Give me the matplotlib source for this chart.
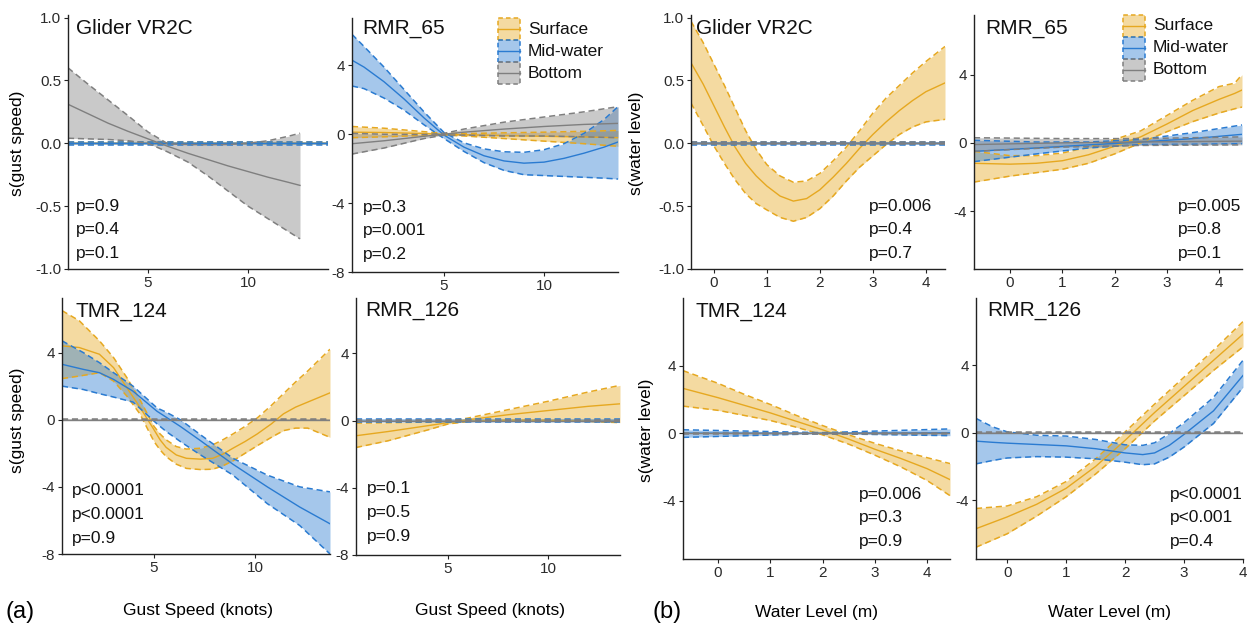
import matplotlib
matplotlib.use("Agg")
import matplotlib.pyplot as plt
from matplotlib.patches import Rectangle
from matplotlib.lines import Line2D
from matplotlib.colors import to_rgba

plt.rcParams['font.family'] = ['Liberation Sans', 'DejaVu Sans']

W, H = 1257, 627

# ---------------- DATA ----------------
series_names = ["Surface", "Mid-water", "Bottom"]

# (a) Gust speed --- Glider VR2C
g1_surf_x = [1, 14]
g1_surf_fit = [0.003, 0.003]
g1_surf_lo = [-0.008, -0.008]
g1_surf_hi = [0.012, 0.012]
g1_mid_x = [1, 14]
g1_mid_fit = [0.0, 0.0]
g1_mid_lo = [-0.012, -0.012]
g1_mid_hi = [0.012, 0.012]
g1_bot_x = [1, 2, 3, 4, 5, 6, 7, 8, 9, 10, 11, 12, 12.6]
g1_bot_fit = [0.31, 0.235, 0.16, 0.095, 0.035, -0.025, -0.08, -0.13, -0.18, -0.225, -0.27, -0.31, -0.335]
g1_bot_hi = [0.60, 0.47, 0.345, 0.22, 0.09, -0.005, -0.01, -0.012, -0.01, 0.0, 0.02, 0.055, 0.08]
g1_bot_lo = [0.04, 0.035, 0.03, 0.02, 0.0, -0.07, -0.15, -0.26, -0.38, -0.5, -0.6, -0.7, -0.76]

# (a) Gust speed --- RMR_65
g2_surf_x = [0.4, 2, 4, 5, 6, 8, 10, 12, 13.7]
g2_surf_fit = [0.12, 0.1, 0.04, 0.0, -0.03, -0.08, -0.12, -0.16, -0.2]
g2_surf_hi = [0.45, 0.35, 0.15, 0.05, 0.04, 0.08, 0.12, 0.17, 0.22]
g2_surf_lo = [-0.2, -0.15, -0.07, -0.05, -0.1, -0.25, -0.4, -0.55, -0.7]
g2_mid_x = [0.4, 1, 2, 3, 4, 5, 6, 7, 8, 9, 10, 11, 12, 13, 13.7]
g2_mid_fit = [4.3, 3.9, 3.05, 2.05, 0.95, -0.05, -0.75, -1.25, -1.55, -1.68, -1.62, -1.4, -1.1, -0.75, -0.45]
g2_mid_hi = [5.8, 5.1, 3.9, 2.6, 1.3, 0.1, -0.5, -0.85, -1.02, -1.05, -0.9, -0.55, 0.05, 0.85, 1.6]
g2_mid_lo = [2.8, 2.65, 2.1, 1.4, 0.55, -0.25, -1.0, -1.65, -2.1, -2.35, -2.4, -2.45, -2.5, -2.55, -2.6]
g2_bot_x = [0.4, 2, 4, 5, 6, 8, 10, 12, 13.7]
g2_bot_fit = [-0.55, -0.38, -0.12, 0.0, 0.12, 0.3, 0.45, 0.57, 0.63]
g2_bot_hi = [0.05, 0.0, -0.02, 0.05, 0.3, 0.7, 1.0, 1.3, 1.6]
g2_bot_lo = [-1.15, -0.8, -0.25, -0.05, -0.05, -0.1, -0.1, -0.15, -0.2]

# (a) Gust speed --- TMR_124
g3_surf_x = [0.45, 1.3, 2.3, 3.0, 3.66, 4.3, 5.0, 5.3, 5.6, 6.1, 6.6, 7.3, 7.9, 8.4, 8.9, 9.5, 10.1, 10.8, 11.4, 12.0, 12.6, 13.7]
g3_surf_fit = [4.4, 4.3, 3.9, 3.1, 1.9, 0.75, -0.6, -1.2, -1.65, -2.1, -2.3, -2.35, -2.3, -2.05, -1.7, -1.3, -0.85, -0.25, 0.35, 0.75, 1.05, 1.6]
g3_surf_hi = [6.5, 5.9, 4.7, 3.7, 2.5, 1.2, -0.4, -0.85, -1.2, -1.6, -1.75, -1.7, -1.5, -1.2, -0.85, -0.4, 0.1, 0.85, 1.55, 2.25, 2.9, 4.2]
g3_surf_lo = [2.45, 2.6, 2.8, 2.3, 1.4, 0.35, -1.3, -1.8, -2.2, -2.65, -2.9, -2.97, -2.95, -2.75, -2.45, -2.0, -1.55, -1.05, -0.65, -0.5, -0.5, -1.05]
g3_mid_x = [0.45, 1.5, 2.3, 3.0, 3.96, 5.15, 5.6, 6.3, 7.3, 8.9, 10.6, 12.2, 13.7]
g3_mid_fit = [3.3, 3.0, 2.8, 2.4, 1.7, 0.5, 0.15, -0.4, -1.25, -2.65, -4.0, -5.2, -6.2]
g3_mid_hi = [4.7, 4.0, 3.4, 2.8, 2.0, 0.7, 0.45, 0.0, -0.9, -2.3, -3.3, -4.0, -4.3]
g3_mid_lo = [2.0, 1.8, 1.55, 1.35, 1.05, -0.25, -0.7, -1.3, -2.1, -3.3, -5.0, -6.3, -8.0]
g3_bot_x = [0.45, 13.7]
g3_bot_fit = [0.0, 0.0]
g3_bot_hi = [0.04, 0.04]
g3_bot_lo = [-0.04, -0.04]

# (a) Gust speed --- RMR_126
g4_surf_x = [0.4, 2, 4, 5, 6, 8, 10, 12, 13.6]
g4_surf_fit = [-0.9, -0.65, -0.3, -0.12, 0.05, 0.35, 0.6, 0.85, 1.0]
g4_surf_hi = [-0.15, -0.13, -0.08, -0.03, 0.15, 0.65, 1.15, 1.7, 2.1]
g4_surf_lo = [-1.6, -1.2, -0.55, -0.2, -0.05, 0.03, 0.02, -0.05, -0.12]
g4_mid_x = [0.4, 13.6]
g4_mid_fit = [0.0, 0.0]
g4_mid_hi = [0.1, 0.1]
g4_mid_lo = [-0.1, -0.1]
g4_bot_x = [0.4, 13.6]
g4_bot_fit = [0.0, 0.0]
g4_bot_hi = [0.04, 0.04]
g4_bot_lo = [-0.04, -0.04]

# (b) Water level --- Glider VR2C
w1_surf_x = [-0.43, -0.2, 0, 0.2, 0.4, 0.6, 0.8, 1.0, 1.25, 1.5, 1.75, 2.0, 2.25, 2.5, 2.75, 3.0, 3.25, 3.5, 3.75, 4.0, 4.36]
w1_surf_fit = [0.64, 0.47, 0.30, 0.13, -0.03, -0.16, -0.26, -0.34, -0.42, -0.46, -0.44, -0.37, -0.27, -0.16, -0.04, 0.07, 0.17, 0.26, 0.34, 0.41, 0.48]
w1_surf_hi = [0.97, 0.8, 0.63, 0.46, 0.28, 0.1, -0.05, -0.17, -0.26, -0.31, -0.3, -0.24, -0.14, -0.03, 0.1, 0.24, 0.36, 0.46, 0.56, 0.65, 0.77]
w1_surf_lo = [0.32, 0.14, -0.02, -0.16, -0.29, -0.4, -0.48, -0.53, -0.59, -0.62, -0.59, -0.52, -0.42, -0.3, -0.19, -0.1, -0.01, 0.07, 0.13, 0.17, 0.19]
w1_mid_x = [-0.43, 4.36]
w1_mid_fit = [0.0, 0.0]
w1_mid_hi = [0.012, 0.012]
w1_mid_lo = [-0.012, -0.012]
w1_bot_x = [-0.43, 4.36]
w1_bot_fit = [0.0, 0.0]
w1_bot_hi = [0.008, 0.008]
w1_bot_lo = [-0.008, -0.008]

# (b) Water level --- RMR_65
w2_surf_x = [-0.69, 0, 0.5, 1, 1.5, 2, 2.5, 3, 3.5, 4, 4.3, 4.44]
w2_surf_fit = [-1.2, -1.25, -1.2, -1.05, -0.7, -0.2, 0.35, 1.1, 1.9, 2.55, 2.9, 3.1]
w2_surf_hi = [-0.5, -0.75, -0.75, -0.6, -0.25, 0.2, 0.7, 1.6, 2.5, 3.3, 3.5, 4.0]
w2_surf_lo = [-2.3, -1.95, -1.75, -1.55, -1.2, -0.65, 0.0, 0.65, 1.25, 1.75, 2.0, 2.1]
w2_mid_x = [-0.69, 0.5, 1.5, 2.5, 3.5, 4.44]
w2_mid_fit = [-0.5, -0.3, -0.12, 0.05, 0.25, 0.5]
w2_mid_hi = [0.15, 0.05, 0.05, 0.2, 0.6, 1.05]
w2_mid_lo = [-1.1, -0.65, -0.3, -0.1, -0.08, -0.05]
w2_bot_x = [-0.69, 1, 2.5, 4.44]
w2_bot_fit = [-0.1, 0.0, 0.05, 0.1]
w2_bot_hi = [0.3, 0.25, 0.25, 0.35]
w2_bot_lo = [-0.5, -0.25, -0.15, -0.12]

# (b) Water level --- TMR_124
w3_surf_x = [-0.67, 0, 0.5, 1, 1.5, 2, 2.5, 3, 3.5, 4, 4.44]
w3_surf_fit = [2.65, 2.1, 1.65, 1.2, 0.7, 0.2, -0.35, -0.95, -1.5, -2.1, -2.75]
w3_surf_hi = [3.7, 2.95, 2.3, 1.7, 1.05, 0.45, -0.1, -0.6, -1.05, -1.45, -1.8]
w3_surf_lo = [1.6, 1.35, 1.05, 0.75, 0.35, -0.1, -0.65, -1.3, -2.0, -2.8, -3.7]
w3_mid_x = [-0.67, 2, 4.44]
w3_mid_fit = [0.0, 0.0, 0.02]
w3_mid_hi = [0.2, 0.03, 0.25]
w3_mid_lo = [-0.25, -0.03, -0.15]
w3_bot_x = [-0.67, 4.44]
w3_bot_fit = [0.0, 0.0]
w3_bot_hi = [0.03, 0.03]
w3_bot_lo = [-0.03, -0.03]

# (b) Water level --- RMR_126
w4_surf_x = [-0.53, 0, 0.5, 1, 1.5, 2, 2.5, 3, 3.5, 4]
w4_surf_fit = [-5.7, -5.0, -4.25, -3.3, -2.0, -0.45, 1.2, 2.75, 4.3, 5.85]
w4_surf_hi = [-4.5, -4.35, -3.8, -2.9, -1.55, 0.05, 1.7, 3.3, 4.9, 6.6]
w4_surf_lo = [-6.8, -6.0, -4.95, -3.8, -2.45, -0.95, 0.7, 2.2, 3.7, 5.1]
w4_mid_x = [-0.53, -0.25, 0, 0.5, 1, 1.5, 2, 2.3, 2.5, 2.75, 3, 3.5, 4]
w4_mid_fit = [-0.5, -0.57, -0.62, -0.7, -0.78, -0.95, -1.2, -1.3, -1.2, -0.75, -0.1, 1.3, 3.4]
w4_mid_hi = [0.85, 0.35, 0.05, -0.15, -0.2, -0.4, -0.72, -0.75, -0.6, -0.05, 0.6, 2.1, 4.3]
w4_mid_lo = [-1.85, -1.65, -1.5, -1.42, -1.45, -1.55, -1.75, -1.9, -1.85, -1.45, -0.85, 0.55, 2.7]
w4_bot_x = [-0.53, 4.0]
w4_bot_fit = [0.0, 0.0]
w4_bot_hi = [0.03, 0.03]
w4_bot_lo = [-0.03, -0.03]

panel_titles = ["Glider VR2C", "RMR_65", "TMR_124", "RMR_126",
                "Glider VR2C", "RMR_65", "TMR_124", "RMR_126"]
pvals_g1 = ["p=0.9", "p=0.4", "p=0.1"]
pvals_g2 = ["p=0.3", "p=0.001", "p=0.2"]
pvals_g3 = ["p<0.0001", "p<0.0001", "p=0.9"]
pvals_g4 = ["p=0.1", "p=0.5", "p=0.9"]
pvals_w1 = ["p=0.006", "p=0.4", "p=0.7"]
pvals_w2 = ["p=0.005", "p=0.8", "p=0.1"]
pvals_w3 = ["p=0.006", "p=0.3", "p=0.9"]
pvals_w4 = ["p<0.0001", "p<0.001", "p=0.4"]

gust_xticks = [5, 10]
water_xticks = [0, 1, 2, 3, 4]
small_yticks = [-1.0, -0.5, 0.0, 0.5, 1.0]
big_yticks = [-8, -4, 0, 4]
rmr65w_yticks = [-4, 0, 4]

# ---------------- STYLE ----------------
COLORS = ["#E6A820", "#2A7BD1", "#7F7F7F"]
FILL_ALPHA = 0.42
AXCOL = "#222222"
TICKCOL = "#2b2b2b"

fig = plt.figure(figsize=(W / 100, H / 100), dpi=100)


def add_ax(left, right, top, bottom):
    return fig.add_axes([left / W, 1 - bottom / H, (right - left) / W, (bottom - top) / H])


def draw_series(ax, x, fit, lo, hi, c):
    ax.fill_between(x, lo, hi, color=c, alpha=FILL_ALPHA, lw=0)
    ax.plot(x, lo, color=c, lw=1.1, dashes=(4, 2.5))
    ax.plot(x, hi, color=c, lw=1.1, dashes=(4, 2.5))
    ax.plot(x, fit, color=c, lw=1.0)


def style_ax(ax, xlim, ylim, xticks, yticks, yfmt=None):
    ax.set_xlim(*xlim)
    ax.set_ylim(*ylim)
    ax.set_xticks(xticks)
    ax.set_yticks(yticks)
    if yfmt:
        ax.set_yticklabels([yfmt.format(v) for v in yticks])
    for s in ["top", "right"]:
        ax.spines[s].set_visible(False)
    for s in ["left", "bottom"]:
        ax.spines[s].set_color(AXCOL)
        ax.spines[s].set_linewidth(1.0)
    ax.tick_params(axis="both", length=3, width=0.8, color=AXCOL,
                   labelsize=11, labelcolor=TICKCOL, pad=2)
    ax.set_facecolor("none")


def tx(px):
    return px / W


def ty(py):
    return 1 - py / H


panels = [
    ((68, 328, 15, 269), (1, 14), (-1.0, 1.02), gust_xticks, small_yticks, "{:.1f}",
     [(g1_surf_x, g1_surf_fit, g1_surf_lo, g1_surf_hi),
      (g1_mid_x, g1_mid_fit, g1_mid_lo, g1_mid_hi),
      (g1_bot_x, g1_bot_fit, g1_bot_lo, g1_bot_hi)]),
    ((352, 618, 18, 272), (0.4, 13.7), (-8, 6.75), gust_xticks, big_yticks, "{:.0f}",
     [(g2_surf_x, g2_surf_fit, g2_surf_lo, g2_surf_hi),
      (g2_mid_x, g2_mid_fit, g2_mid_lo, g2_mid_hi),
      (g2_bot_x, g2_bot_fit, g2_bot_lo, g2_bot_hi)]),
    ((62, 330, 298, 554), (0.45, 13.7), (-8, 7.25), gust_xticks, big_yticks, "{:.0f}",
     [(g3_surf_x, g3_surf_fit, g3_surf_lo, g3_surf_hi),
      (g3_mid_x, g3_mid_fit, g3_mid_lo, g3_mid_hi),
      (g3_bot_x, g3_bot_fit, g3_bot_lo, g3_bot_hi)]),
    ((356, 620, 298, 555), (0.4, 13.6), (-8, 7.3), gust_xticks, big_yticks, "{:.0f}",
     [(g4_surf_x, g4_surf_fit, g4_surf_lo, g4_surf_hi),
      (g4_mid_x, g4_mid_fit, g4_mid_lo, g4_mid_hi),
      (g4_bot_x, g4_bot_fit, g4_bot_lo, g4_bot_hi)]),
    ((691, 945, 15, 269), (-0.43, 4.36), (-1.0, 1.02), water_xticks, small_yticks, "{:.1f}",
     [(w1_surf_x, w1_surf_fit, w1_surf_lo, w1_surf_hi),
      (w1_mid_x, w1_mid_fit, w1_mid_lo, w1_mid_hi),
      (w1_bot_x, w1_bot_fit, w1_bot_lo, w1_bot_hi)]),
    ((974, 1242, 15, 269), (-0.69, 4.44), (-7.4, 7.5), water_xticks, rmr65w_yticks, "{:.0f}",
     [(w2_surf_x, w2_surf_fit, w2_surf_lo, w2_surf_hi),
      (w2_mid_x, w2_mid_fit, w2_mid_lo, w2_mid_hi),
      (w2_bot_x, w2_bot_fit, w2_bot_lo, w2_bot_hi)]),
    ((683, 950, 298, 559), (-0.67, 4.44), (-7.45, 8.0), water_xticks, big_yticks[1:], "{:.0f}",
     [(w3_surf_x, w3_surf_fit, w3_surf_lo, w3_surf_hi),
      (w3_mid_x, w3_mid_fit, w3_mid_lo, w3_mid_hi),
      (w3_bot_x, w3_bot_fit, w3_bot_lo, w3_bot_hi)]),
    ((976, 1243, 298, 559), (-0.53, 4.0), (-7.5, 8.0), water_xticks, big_yticks[1:], "{:.0f}",
     [(w4_surf_x, w4_surf_fit, w4_surf_lo, w4_surf_hi),
      (w4_mid_x, w4_mid_fit, w4_mid_lo, w4_mid_hi),
      (w4_bot_x, w4_bot_fit, w4_bot_lo, w4_bot_hi)]),
]

axes = []
for rect, xlim, ylim, xt, yt, yfmt, data in panels:
    ax = add_ax(*rect)
    for (x, fit, lo, hi), c in zip(data, COLORS):
        draw_series(ax, x, fit, lo, hi, c)
    style_ax(ax, xlim, ylim, xt, yt, yfmt)
    axes.append(ax)

# titles (left x, centre y in pixels)
title_pos = [(76, 28), (362, 28), (75, 312), (365, 311),
             (696, 28), (985, 28), (696, 312), (987, 311)]
for (px, py), t in zip(title_pos, panel_titles):
    fig.text(tx(px), ty(py), t, fontsize=15, ha="left", va="center", color="#111111")

# p-values (left x, first line centre y)
pv_sets = [pvals_g1, pvals_g2, pvals_g3, pvals_g4, pvals_w1, pvals_w2, pvals_w3, pvals_w4]
pv_pos = [(76, 206), (363, 207), (72, 491), (367, 489),
          (869, 206), (1178, 206), (859, 494), (1170, 494)]
for (px, py), pv in zip(pv_pos, pv_sets):
    for i, s in enumerate(pv):
        fig.text(tx(px), ty(py + 23.8 * i), s, fontsize=12.5, ha="left", va="center",
                 color="#111111")

# axis labels
fig.text(tx(18), ty(143), "s(gust speed)", rotation=90, fontsize=12.5, ha="center", va="center")
fig.text(tx(18), ty(420), "s(gust speed)", rotation=90, fontsize=12.5, ha="center", va="center")
fig.text(tx(636), ty(143), "s(water level)", rotation=90, fontsize=12.5, ha="center", va="center")
fig.text(tx(647), ty(430), "s(water level)", rotation=90, fontsize=12.5, ha="center", va="center")
fig.text(tx(198), ty(610), "Gust Speed (knots)", fontsize=12.5, ha="center", va="center")
fig.text(tx(490), ty(610), "Gust Speed (knots)", fontsize=12.5, ha="center", va="center")
fig.text(tx(817), ty(612), "Water Level (m)", fontsize=12.5, ha="center", va="center")
fig.text(tx(1110), ty(612), "Water Level (m)", fontsize=12.5, ha="center", va="center")
fig.text(tx(20), ty(612), "(a)", fontsize=17, ha="center", va="center")
fig.text(tx(667), ty(612), "(b)", fontsize=17, ha="center", va="center")


# legends drawn as key boxes in figure pixel space
def draw_legend(left, top, box_w=22, box_h=22, gap=8):
    for i, (name, c) in enumerate(zip(series_names, COLORS)):
        y_top = top + i * box_h
        rect = Rectangle((tx(left), ty(y_top + box_h)), box_w / W, box_h / H,
                         transform=fig.transFigure, facecolor=to_rgba(c, FILL_ALPHA),
                         edgecolor=c, linewidth=1.1, linestyle=(0, (3, 2)))
        fig.add_artist(rect)
        yc = y_top + box_h / 2
        fig.add_artist(Line2D([tx(left), tx(left + box_w)], [ty(yc), ty(yc)],
                              transform=fig.transFigure, color=c, lw=1.0))
        fig.text(tx(left + box_w + gap), ty(yc), name, fontsize=12.5,
                 ha="left", va="center", color="#111111")


draw_legend(498, 18)
draw_legend(1123, 15)

fig.savefig("out.png", dpi=100)
